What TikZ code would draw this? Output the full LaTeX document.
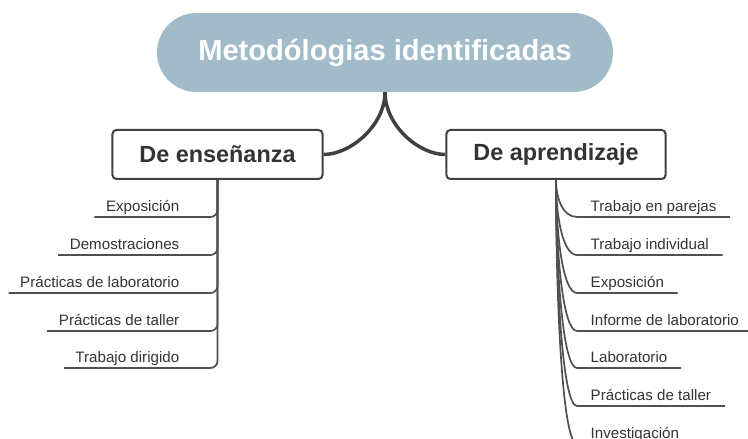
\documentclass[tikz,border=0pt]{standalone}
\usepackage{fontspec}
\setmainfont{Liberation Sans}
\usetikzlibrary{calc}
\definecolor{pill}{HTML}{A1BBC8}
\definecolor{ink}{HTML}{333333}
\definecolor{linec}{HTML}{404040}
\definecolor{branch}{HTML}{505050}
\begin{document}
\begin{tikzpicture}[x=1bp,y=-1bp,
  central/.style={fill=pill, rounded corners=39.5bp, minimum width=456bp, minimum height=79bp,
    text=white, font=\fontsize{29.2}{30}\selectfont\bfseries, inner sep=0pt},
  topic/.style={draw=linec, line width=2bp, fill=white, rounded corners=4bp, minimum height=49bp,
    inner xsep=27bp, font=\fontsize{23.5}{25}\selectfont\bfseries, text=ink},
  leaf/.style={inner xsep=11.5bp, inner ysep=0pt, text depth=5.5bp,
    font=\fontsize{15.2}{16}\selectfont, text=ink},
  rleaf/.style={leaf, inner xsep=13.5bp},
  branchline/.style={draw=branch, line width=1.7bp},
  mainline/.style={draw=linec, line width=3.5bp}]
\useasboundingbox (0,0) rectangle (748,439);
\clip (0,0) rectangle (748,439);

\node[central] (C) at (385,52.5) {Metodólogias identificadas};
\node[topic] (L) at (217.5,154.5) {De enseñanza};
\node[topic] (R) at (556,154.5) {De aprendizaje};

\draw[mainline] (C.south) .. controls ($(C.south)+(0,33)$) and ($(L.east)+(27,0)$) .. (L.east);
\draw[mainline] (C.south) .. controls ($(C.south)+(0,33)$) and ($(R.west)+(-27,0)$) .. (R.west);

% left leaves
\node[leaf, anchor=south east] (L1) at (191,217) {Exposición};
\node[leaf, anchor=south east] (L2) at (191,255) {Demostraciones};
\node[leaf, anchor=south east] (L3) at (191,293) {Prácticas de laboratorio};
\node[leaf, anchor=south east] (L4) at (191,331) {Prácticas de taller};
\node[leaf, anchor=south east] (L5) at (191,368) {Trabajo dirigido};
\foreach \n in {L1,L2,L3,L4,L5}{
  \draw[branchline, rounded corners=7bp] (\n.south west) -- (\n.south east) -- (L.south |- \n.south east) -- (L.south);
}

% right leaves
\node[rleaf, anchor=south west] (R1) at (577,217) {Trabajo en parejas};
\node[rleaf, anchor=south west] (R2) at (577,255) {Trabajo individual};
\node[rleaf, anchor=south west] (R3) at (577,293) {Exposición};
\node[rleaf, anchor=south west] (R4) at (577,331) {Informe de laboratorio};
\node[rleaf, anchor=south west] (R5) at (577,368) {Laboratorio};
\node[rleaf, anchor=south west] (R6) at (577,406) {Prácticas de taller};
\node[rleaf, anchor=south west] (R7) at (577,444) {Investigación};
\foreach \n in {R1,R2,R3,R4,R5,R6,R7}{
  \draw[branchline] (R.south) .. controls ($(R.south)!0.5!(R.south |- \n.south west)$) and ($(\n.south west)+(-14,0)$) .. (\n.south west) -- (\n.south east);
}
\end{tikzpicture}
\end{document}
